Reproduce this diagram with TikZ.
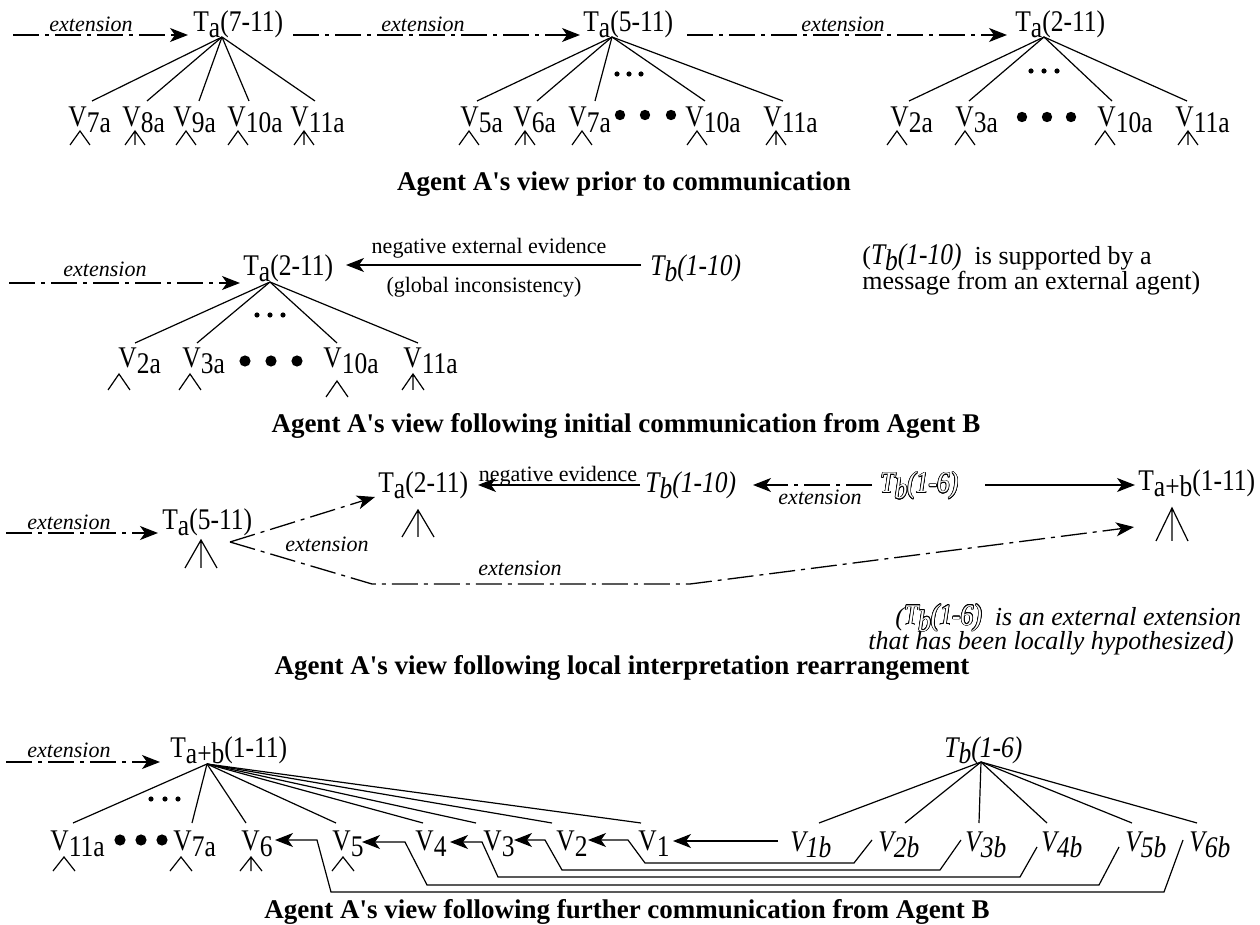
\documentclass[tikz,border=0pt]{standalone}
\usepackage{fontspec}
\setmainfont{Liberation Serif}[Ligatures=TeXOff]
\newfontfamily\condf{Liberation Serif}[Ligatures=TeXOff,FakeStretch=0.85]
\usepackage{contour}
\contourlength{0.3pt}
\usetikzlibrary{arrows.meta}
\newcommand\lo[1]{\raisebox{-3pt}{#1}}
\newcommand\outl[1]{\textcolor{white}{\contour{black}{#1}}}
\newcommand\wdg[4]{% apex x, apex y, half width, height
  \draw[treeln] (#1-#3,#2+#4) -- (#1,#2) -- (#1+#3,#2+#4);}
\newcommand\wdgl[4]{%
  \draw[treeln] (#1-#3,#2+#4) -- (#1,#2) -- (#1+#3,#2+#4) (#1,#2) -- (#1,#2+#4);}
\begin{document}
\begin{tikzpicture}[x=0.5pt,y=-0.5pt,
  lab/.style={inner sep=0pt,anchor=base west,font=\condf\fontsize{15}{17}\selectfont},
  extlbl/.style={inner sep=0pt,anchor=base,font=\fontsize{11}{13}\selectfont\itshape},
  txtlbl/.style={inner sep=0pt,anchor=base,font=\fontsize{11}{13}\selectfont},
  captxt/.style={inner sep=0pt,anchor=base,font=\fontsize{13.5}{16}\selectfont\bfseries},
  notetxt/.style={inner sep=0pt,anchor=base west,font=\fontsize{13}{15}\selectfont},
  treeln/.style={line width=0.6pt},
  dd/.style={line width=0.65pt,dash pattern=on 13pt off 3pt on 2pt off 3pt},
  arr/.style={-{Stealth[length=9pt,width=7pt,inset=2.5pt]}},
  sol/.style={line width=0.65pt},
  ]
\useasboundingbox (0,0) rectangle (1260,925);

% ================= Row 1 =================
\node[lab] (r1t1) at (193,32) {T\lo{a}(7-11)};
\node[lab] (r1t2) at (583,32) {T\lo{a}(5-11)};
\node[lab] (r1t3) at (1015,32) {T\lo{a}(2-11)};
\coordinate (r1p1) at (222,37);
\coordinate (r1p2) at (612,37);
\coordinate (r1p3) at (1044,37);
\coordinate (r1s1) at (13,35);  \coordinate (r1e1) at (188,35);
\coordinate (r1s2) at (293,35); \coordinate (r1e2) at (580,35);
\coordinate (r1s3) at (687,35); \coordinate (r1e3) at (1007,35);
\draw[dd,arr] (r1s1) -- (r1e1);
\draw[dd,arr] (r1s2) -- (r1e2);
\draw[dd,arr] (r1s3) -- (r1e3);
\node[extlbl] (r1x1) at (91,32) {extension};
\node[extlbl] (r1x2) at (423,32) {extension};
\node[extlbl] (r1x3) at (843,32) {extension};
% tree 1
\foreach \x/\s/\e in {68/7a/92,122/8a/147,173/9a/199,227/10a/249,290/11a/315}{
  \node[lab] (r1v\s) at (\x,127) {V\lo{\s}};
  \draw[treeln] (r1p1) -- (\e,101);}
\wdg{80}{131}{10}{14} \wdgl{135}{131}{10}{14} \wdg{186}{131}{10}{14}
\wdg{238}{131}{10}{14} \wdgl{304}{131}{10}{14}
% tree 2
\foreach \x/\s/\e in {460/5a/477,513/6a/537,568/7a/595,685/10a/705,763/11a/783}{
  \node[lab] (r1w\s) at (\x,127) {V\lo{\s}};
  \draw[treeln] (r1p2) -- (\e,101);}
\wdg{469}{131}{10}{14} \wdgl{525}{131}{10}{14} \wdg{582}{131}{10}{14}
\wdg{697}{131}{10}{14} \wdgl{776}{131}{10}{14}
\foreach \x in {617,629,641}{\fill (\x,74) circle (1.3pt);}
\foreach \x in {620,645,671}{\fill (\x,115) circle (2.6pt);}
% tree 3
\foreach \x/\s/\e in {890/2a/909,955/3a/969,1097/10a/1112,1175/11a/1187}{
  \node[lab] (r1u\s) at (\x,127) {V\lo{\s}};
  \draw[treeln] (r1p3) -- (\e,101);}
\wdg{897}{131}{10}{14} \wdg{965}{131}{10}{14}
\wdg{1105}{131}{10}{14} \wdgl{1188}{131}{10}{14}
\foreach \x in {1031,1044,1057}{\fill (\x,71) circle (1.3pt);}
\foreach \x in {1022,1047,1071}{\fill (\x,117) circle (2.6pt);}
\node[captxt] (cap1) at (624,191) {Agent A's view prior to communication};

% ================= Row 2 =================
\node[lab] (r2t) at (243,276) {T\lo{a}(2-11)};
\coordinate (r2p) at (270,282);
\coordinate (r2s) at (9,283); \coordinate (r2e) at (240,283);
\draw[dd,arr] (r2s) -- (r2e);
\node[extlbl] (r2x) at (105,277) {extension};
\node[lab] (r2tb) at (650,276) {\itshape T\lo{b}(1-10)};
\coordinate (r2ns) at (641,265); \coordinate (r2ne) at (346,265);
\draw[sol,arr] (r2ns) -- (r2ne);
\node[txtlbl] (r2n1) at (489,254) {negative external evidence};
\node[txtlbl] (r2n2) at (484,293) {(global inconsistency)};
\node[notetxt] (r2m1) at (862,265) {({\condf\fontsize{15}{17}\selectfont\itshape T\lo{b}(1-10)}\ \ is supported by a};
\node[notetxt] (r2m2) at (862,290) {message from an external agent)};
\foreach \x/\s/\e in {118/2a/135,182/3a/197,323/10a/337,403/11a/418}{
  \node[lab] (r2v\s) at (\x,368) {V\lo{\s}};
  \draw[treeln] (r2p) -- (\e,343);}
\wdg{119}{374}{11}{16} \wdg{190}{374}{11}{16}
\wdg{337}{381}{11}{16} \wdgl{413}{374}{11}{16}
\foreach \x in {257,270,283}{\fill (\x,315) circle (1.3pt);}
\foreach \x in {245,271,297}{\fill (\x,361) circle (2.8pt);}
\node[captxt] (cap2) at (626,433) {Agent A's view following initial communication from Agent B};

% ================= Row 3 =================
\node[lab] (r3t5) at (162,530) {T\lo{a}(5-11)};
\coordinate (r3s) at (6,533); \coordinate (r3e) at (158,533);
\draw[dd,arr] (r3s) -- (r3e);
\node[extlbl] (r3x0) at (69,530) {extension};
\wdgl{201}{540}{16}{28}
\coordinate (r3f) at (230,542);
\coordinate (r3up) at (375,497);
\draw[dd,arr] (r3f) -- (r3up);
\coordinate (r3b1) at (372,584); \coordinate (r3b2) at (690,584);
\coordinate (r3lt) at (1134,527);
\draw[dd,arr] (r3f) -- (r3b1) -- (r3b2) -- (r3lt);
\node[extlbl] (r3x1) at (327,552) {extension};
\node[extlbl] (r3x2) at (520,575) {extension};
\node[lab] (r3t2) at (378,493) {T\lo{a}(2-11)};
\wdgl{418}{510}{16}{27}
\coordinate (r3ns) at (640,485); \coordinate (r3ne) at (478,485);
\draw[sol,arr] (r3ns) -- (r3ne);
\node[txtlbl] (r3n) at (558,481) {negative evidence};
\node[lab] (r3tb) at (645,493) {\itshape T\lo{b}(1-10)};
\coordinate (r3ds) at (872,485); \coordinate (r3de) at (753,485);
\draw[dd,arr] (r3ds) -- (r3de);
\node[extlbl] (r3x3) at (820,504) {extension};
\node[lab] (r3ts) at (880,493) {\outl{\itshape T\lo{b}(1-6)}};
\coordinate (r3ss) at (985,485); \coordinate (r3se) at (1135,485);
\draw[sol,arr] (r3ss) -- (r3se);
\node[lab] (r3tab) at (1138,491) {T\lo{a+b}(1-11)};
\wdgl{1172}{508}{16}{33}
\node[notetxt,font=\fontsize{13}{15}\selectfont\itshape] (r3m1) at (895,625) {(\outl{{\condf\fontsize{15}{17}\selectfont T\lo{b}(1-6)}}\ \ is an external extension};
\node[notetxt,font=\fontsize{13}{15}\selectfont\itshape] (r3m2) at (868,649) {that has been locally hypothesized)};
\node[captxt] (cap3) at (622,674) {Agent A's view following local interpretation rearrangement};

% ================= Row 4 =================
\node[lab] (r4t) at (170,757) {T\lo{a+b}(1-11)};
\coordinate (r4p) at (207,764);
\coordinate (r4s) at (6,762); \coordinate (r4e) at (160,762);
\draw[dd,arr] (r4s) -- (r4e);
\node[extlbl] (r4x) at (69,757) {extension};
\foreach \x/\s/\e in {50/11a/73,173/7a/192,241/6/246,332/5/336,415/4/423,483/3/476,556/2/552,638/1/641}{
  \node[lab] (r4v\s) at (\x,850) {V\lo{\s}};
  \draw[treeln] (r4p) -- (\e,823);}
\wdg{64}{857}{11}{14} \wdg{181}{857}{11}{14} \wdgl{251}{857}{11}{14} \wdg{343}{857}{11}{14}
\foreach \x in {151,165,178}{\fill (\x,799) circle (1.3pt);}
\foreach \x in {120,141,162}{\fill (\x,840) circle (2.8pt);}
\node[lab] (r4tb) at (944,757) {\itshape T\lo{b}(1-6)};
\coordinate (r4q) at (981,762);
\foreach \x/\s/\e in {790/1b/819,878/2b/905,965/3b/979,1041/4b/1047,1125/5b/1132,1189/6b/1197}{
  \node[lab] (r4b\s) at (\x,851) {\itshape V\lo{\s}};
  \draw[treeln] (r4q) -- (\e,823);}
\coordinate (r4a1s) at (778,841); \coordinate (r4a1e) at (673,841);
\draw[sol,arr] (r4a1s) -- (r4a1e);
\draw[treeln,arr] (872,840) -- (854,863) -- (645,863) -- (628,840) -- (588,840);
\draw[treeln,arr] (961,840) -- (940,870) -- (562,870) -- (545,840) -- (514,840);
\draw[treeln,arr] (1037,847) -- (1020,877) -- (498,877) -- (482,842) -- (450,842);
\draw[treeln,arr] (1119,847) -- (1099,885) -- (427,885) -- (405,842) -- (362,842);
\draw[treeln,arr] (1183,840) -- (1164,892) -- (331,892) -- (317,840) -- (275,840);
\node[captxt] (cap4) at (627,918) {Agent A's view following further communication from Agent B};
\end{tikzpicture}
\end{document}
